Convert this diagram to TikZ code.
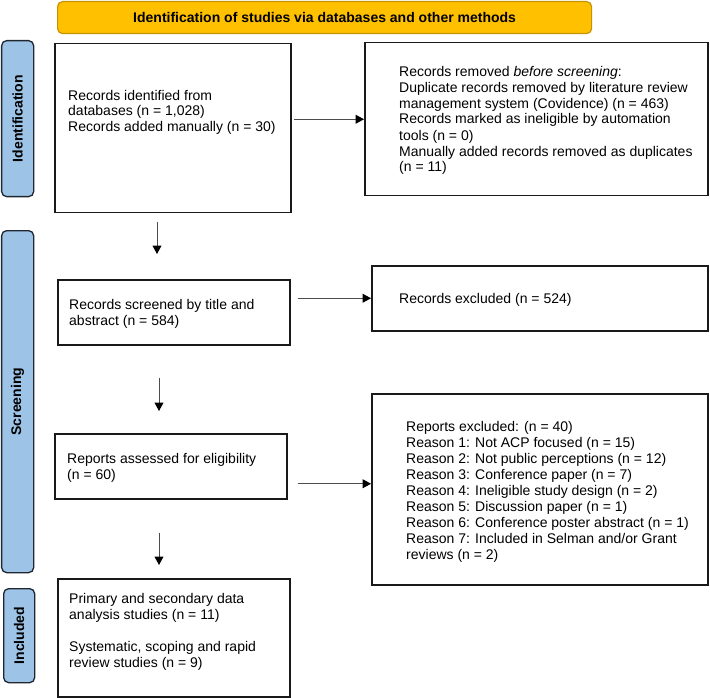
\documentclass[tikz,border=0pt]{standalone}
\usepackage{fontspec}
\setmainfont{Liberation Sans}
\usetikzlibrary{arrows.meta,calc}
\definecolor{bannerfill}{HTML}{FFC000}
\definecolor{bannerline}{HTML}{C49300}
\definecolor{sidefill}{HTML}{9DC3E6}
\definecolor{sideline}{HTML}{1E2630}
\begin{document}
\begin{tikzpicture}[x=1pt,y=-1pt,
  box/.style={draw=black!90, line width=1.5pt, rectangle, inner sep=0pt, anchor=north west},
  txt/.style={anchor=base west, inner sep=0pt, align=left, font=\fontsize{14}{16}\selectfont},
  banner/.style={draw=bannerline, fill=bannerfill, rounded corners=5pt, line width=1.2pt, inner sep=0pt, anchor=north west, font=\bfseries\fontsize{14}{16}\selectfont},
  side/.style={draw=sideline, fill=sidefill, rounded corners=5pt, line width=1.3pt, inner sep=0pt, anchor=north west},
  sidetxt/.style={rotate=90, inner sep=0pt, font=\bfseries\fontsize{14}{16}\selectfont},
  arr/.style={draw=black!70, line width=1pt, -{Triangle[length=8.5pt,width=9pt,color=black]}}
]
\useasboundingbox (0,0) rectangle (710,698);

% banner
\node[banner, minimum width=534pt, minimum height=32pt] (ban) at (57,1) {Identification of studies via databases and other methods};

% side labels
\node[side, minimum width=32pt, minimum height=156pt] (sid) at (1,40) {};
\node[sidetxt] (sidt) at (sid.center) {Identification};
\node[side, minimum width=32pt, minimum height=342pt] (sscr) at (1,230) {};
\node[sidetxt] (sscrt) at (sscr.center) {Screening};
\node[side, minimum width=31pt, minimum height=94pt] (sinc) at (3,588) {};
\node[sidetxt] (sinct) at (sinc.center) {Included};

% boxes
\node[box, minimum width=236pt, minimum height=169pt] (b1) at (54,43) {};
\node[box, minimum width=343pt, minimum height=153pt] (b2) at (364,42) {};
\node[box, minimum width=232pt, minimum height=65pt] (b3) at (57,279) {};
\node[box, minimum width=336pt, minimum height=65pt] (b4) at (371,265) {};
\node[box, minimum width=232pt, minimum height=65pt] (b5) at (54,433) {};
\node[box, minimum width=336pt, minimum height=191pt] (b6) at (371,393) {};
\node[box, minimum width=232pt, minimum height=118pt] (b7) at (57,578) {};

% texts (anchored at the baseline of their last line)
\node[txt] (t1) at (68,132) {Records identified from\\databases (n = 1,028)\\Records added manually (n = 30)};
\node[txt] (t2) at (399,172) {Records removed \emph{before screening}:\\Duplicate records removed by literature review\\management system (Covidence) (n = 463)\\Records marked as ineligible by automation\\tools (n = 0)\\Manually added records removed as duplicates\\(n = 11)};
\node[txt] (t3) at (69,325) {Records screened by title and\\abstract (n = 584)};
\node[txt] (t4) at (399,303) {Records excluded (n = 524)};
\node[txt] (t5) at (67,479) {Reports assessed for eligibility\\(n = 60)};
\node[txt] (t6) at (406,559) {Reports excluded: (n = 40)\\Reason 1: Not ACP focused (n = 15)\\Reason 2: Not public perceptions (n = 12)\\Reason 3: Conference paper (n = 7)\\Reason 4: Ineligible study design (n = 2)\\Reason 5: Discussion paper (n = 1)\\Reason 6: Conference poster abstract (n = 1)\\Reason 7: Included in Selman and/or Grant\\reviews (n = 2)};
\node[txt] (t7) at (69,667) {Primary and secondary data\\analysis studies (n = 11)\\\mbox{}\\Systematic, scoping and rapid\\review studies (n = 9)};

% horizontal arrows
\draw[arr] ([xshift=2pt]b1.east |- b2.west) -- (b2.west);
\draw[arr] ([xshift=7pt]b3.east |- b4.west) -- (b4.west);
\draw[arr] ([xshift=10pt,yshift=-17.5pt]b5.east) -- ([yshift=-17.5pt]b5.east -| b6.west);

% vertical arrows
\draw[arr] ($(b1.south west)+(103,8)$) -- ($(b3.north west)+(100,-25)$);
\draw[arr] ($(b3.south west)+(102,32)$) -- ($(b5.north west)+(105,-22)$);
\draw[arr] ($(b5.south west)+(105,33)$) -- ($(b7.north west)+(102,-13)$);
\end{tikzpicture}
\end{document}
